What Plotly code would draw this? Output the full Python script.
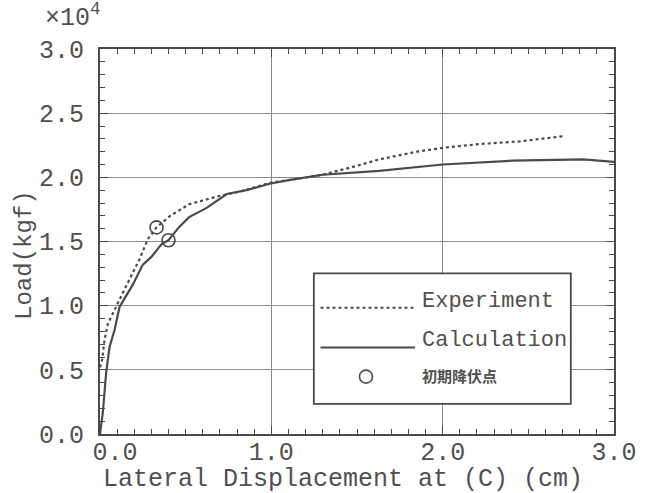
import plotly.graph_objects as go

# Data (load in units of 1e4 kgf, displacement in cm)
exp_x = [0.0, 0.013, 0.026, 0.046, 0.075, 0.114, 0.17, 0.23, 0.28, 0.33, 0.41, 0.52, 0.68, 0.82, 1.0, 1.11, 1.30, 1.50, 1.63, 1.85, 2.0, 2.22, 2.45, 2.70]
exp_y = [0.52, 0.58, 0.73, 0.86, 0.94, 1.05, 1.20, 1.36, 1.52, 1.61, 1.70, 1.79, 1.85, 1.89, 1.96, 1.98, 2.02, 2.09, 2.14, 2.20, 2.23, 2.26, 2.28, 2.32]

calc_x = [0.0, 0.016, 0.036, 0.056, 0.085, 0.114, 0.19, 0.25, 0.30, 0.36, 0.40, 0.46, 0.52, 0.62, 0.74, 0.855, 0.99, 1.11, 1.30, 1.63, 2.0, 2.41, 2.82, 3.0]
calc_y = [0.0, 0.16, 0.48, 0.68, 0.81, 0.99, 1.16, 1.32, 1.38, 1.48, 1.51, 1.61, 1.69, 1.76, 1.87, 1.90, 1.95, 1.98, 2.02, 2.05, 2.10, 2.13, 2.14, 2.12]

yield_x = [0.33, 0.40]
yield_y = [1.61, 1.51]

x_ticks = [0.0, 1.0, 2.0, 3.0]
x_ticktext = ["\u00a0\u00a00.0", "1.0", "2.0", "3.0"]
y_ticks = [0.0, 0.5, 1.0, 1.5, 2.0, 2.5, 3.0]
y_ticktext = ["0.0", "0.5", "1.0", "1.5", "2.0", "2.5", "3.0"]

legend_labels = ["Experiment", "Calculation", "初期降伏点"]
x_title = "Lateral Displacement at (C) (cm)"
y_title = "Load(kgf)"

INK = "#4a4a4a"
TXT = "#505050"
GRID = "#8a8a8a"
FONT = "Liberation Mono, Courier New, monospace"

fig = go.Figure()
fig.add_trace(go.Scatter(x=exp_x, y=exp_y, mode="lines",
                         line=dict(color=INK, width=2.2, dash="dot"), showlegend=False))
fig.add_trace(go.Scatter(x=calc_x, y=calc_y, mode="lines",
                         line=dict(color=INK, width=2.2), showlegend=False))
fig.add_trace(go.Scatter(x=yield_x, y=yield_y, mode="markers",
                         marker=dict(symbol="circle-open", size=13, color=INK, line=dict(width=1.6)),
                         showlegend=False))

axis_common = dict(
    showline=True, linecolor=INK, linewidth=1.8, mirror="allticks",
    ticks="inside", ticklen=8, tickwidth=1.2, tickcolor=INK,
    showgrid=True, gridcolor=GRID, gridwidth=1.2, zeroline=False,
    tickfont=dict(family=FONT, size=25, color=TXT),
)

fig.update_xaxes(range=[0, 3.0], tickvals=x_ticks, ticktext=x_ticktext,
                 minor=dict(dtick=0.1, ticks="inside", ticklen=5, tickcolor=INK, showgrid=False),
                 ticklabelstandoff=-6, **axis_common)
fig.update_yaxes(range=[0, 3.0], tickvals=y_ticks, ticktext=y_ticktext,
                 minor=dict(dtick=0.1, ticks="inside", ticklen=5, tickcolor=INK, showgrid=False),
                 ticklabelstandoff=9, **axis_common)

# Manual legend (layout decoration)
shapes = [
    dict(type="rect", xref="paper", yref="paper", x0=0.416, x1=0.916, y0=0.078, y1=0.417,
         line=dict(color=INK, width=1.8), fillcolor="white", layer="above"),
    dict(type="line", xref="paper", yref="paper", x0=0.429, x1=0.613, y0=0.328, y1=0.328,
         line=dict(color=INK, width=2, dash="dot"), layer="above"),
    dict(type="line", xref="paper", yref="paper", x0=0.429, x1=0.613, y0=0.225, y1=0.225,
         line=dict(color=INK, width=2), layer="above"),
    dict(type="circle", xref="paper", yref="paper", xsizemode="pixel", ysizemode="pixel",
         xanchor=0.5175, yanchor=0.149, x0=-6.5, x1=6.5, y0=-6.5, y1=6.5,
         line=dict(color=INK, width=1.6), layer="above"),
]

annotations = [
    dict(text=legend_labels[0], xref="paper", yref="paper", x=0.623, y=0.344,
         xanchor="left", yanchor="middle", showarrow=False,
         font=dict(family=FONT, size=22, color=TXT)),
    dict(text=legend_labels[1], xref="paper", yref="paper", x=0.623, y=0.244,
         xanchor="left", yanchor="middle", showarrow=False,
         font=dict(family=FONT, size=22, color=TXT)),
    dict(text="<b>" + legend_labels[2] + "</b>", xref="paper", yref="paper", x=0.623, y=0.151,
         xanchor="left", yanchor="middle", showarrow=False,
         font=dict(family="Noto Sans CJK JP", size=15, color=TXT)),
    dict(text="×10<sup>4</sup>", xref="paper", yref="paper", x=-0.11, y=1.087,
         xanchor="left", yanchor="middle", showarrow=False,
         font=dict(family=FONT, size=25, color=TXT)),
    dict(text=x_title, xref="paper", yref="paper", x=0.473, y=-0.117,
         xanchor="center", yanchor="middle", showarrow=False,
         font=dict(family=FONT, size=25, color=TXT)),
    dict(text=y_title, xref="paper", yref="paper", x=-0.146, y=0.465, textangle=-90,
         xanchor="center", yanchor="middle", showarrow=False,
         font=dict(family=FONT, size=24, color=TXT)),
]

fig.update_layout(
    width=652, height=493,
    margin=dict(l=100, r=38, t=49, b=59),
    paper_bgcolor="white", plot_bgcolor="white",
    shapes=shapes, annotations=annotations,
    showlegend=False,
)

fig.write_html("out.html", config={"displayModeBar": False},
               post_script="document.body.style.margin='0';document.body.style.overflow='hidden';")
